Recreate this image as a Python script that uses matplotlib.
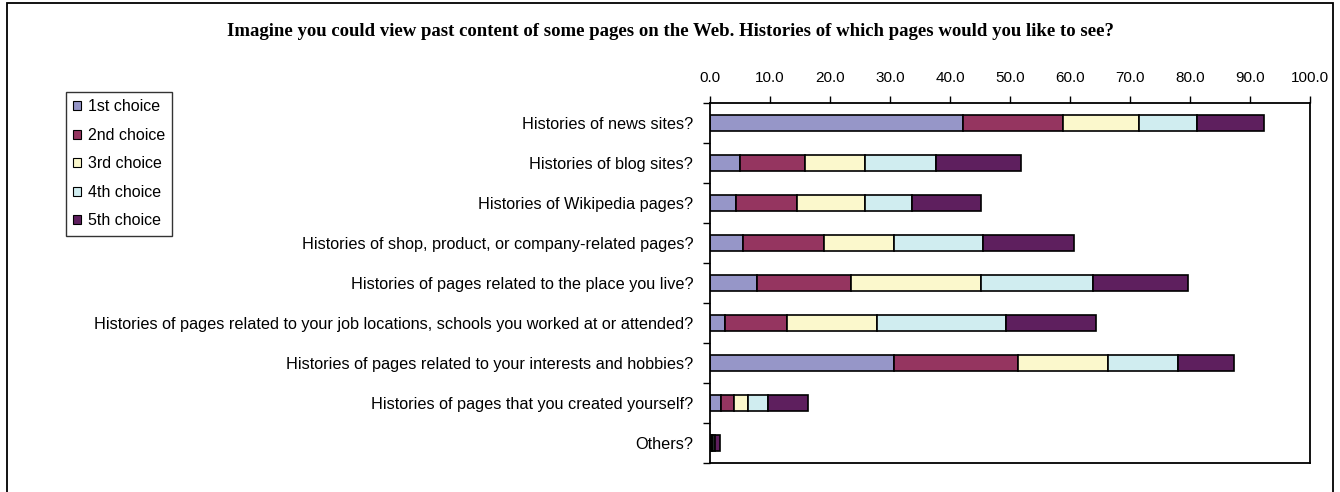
import numpy as np
import matplotlib.pyplot as plt
from matplotlib.patches import Rectangle

# Categories, top to bottom
pages = [
    "Histories of news sites?",
    "Histories of blog sites?",
    "Histories of Wikipedia pages?",
    "Histories of shop, product, or company-related pages?",
    "Histories of pages related to the place you live?",
    "Histories of pages related to your job locations, schools you worked at or attended?",
    "Histories of pages related to your interests and hobbies?",
    "Histories of pages that you created yourself?",
    "Others?",
]

choices = ["1st choice", "2nd choice", "3rd choice", "4th choice", "5th choice"]

# Percentages per choice rank
first = [42.1, 5.0, 4.3, 5.5, 7.8, 2.5, 30.6, 1.9, 0.2]
second = [16.8, 10.8, 10.2, 13.5, 15.7, 10.3, 20.8, 2.1, 0.2]
third = [12.6, 10.0, 11.3, 11.6, 21.6, 15.0, 15.0, 2.3, 0.1]
fourth = [9.7, 11.8, 7.8, 14.9, 18.8, 21.6, 11.6, 3.3, 0.4]
fifth = [11.1, 14.3, 11.5, 15.2, 15.8, 15.0, 9.4, 6.7, 0.8]

colors = ["#9696c8", "#953560", "#fbf8cc", "#d0edf0", "#5e1f5e"]

plt.rcParams["font.family"] = ["Liberation Sans", "DejaVu Sans"]

fig = plt.figure(figsize=(13.4, 4.92), dpi=100)
ax = fig.add_axes([710 / 1340, 1 - 463 / 492, 600 / 1340, 360 / 492])

y = np.arange(len(pages))
left = np.zeros(len(pages))
for vals, name, col in zip([first, second, third, fourth, fifth], choices, colors):
    ax.barh(y, vals, left=left, height=0.42, color=col, edgecolor="black",
            linewidth=1.2, label=name)
    left += np.array(vals)

ax.set_xlim(0, 100)
ax.set_ylim(len(pages) - 0.5, -0.5)
ax.xaxis.tick_top()
ax.set_xticks(np.arange(0, 101, 10))
ax.set_xticklabels([f"{v:.1f}" for v in range(0, 101, 10)], fontsize=11)
ax.tick_params(axis="x", direction="out", length=5, width=1, pad=8)

# labels centred on bars, tick marks between categories
ax.set_yticks(y)
ax.set_yticklabels(pages, fontsize=11.7)
ax.tick_params(axis="y", which="major", length=0, pad=12)
ax.set_yticks(np.arange(-0.5, len(pages)), minor=True)
ax.tick_params(axis="y", which="minor", direction="out", length=5, width=1)

for s in ax.spines.values():
    s.set_linewidth(1.3)

fig.text(670 / 1340, 1 - 31 / 492,
         "Imagine you could view past content of some pages on the Web. Histories of which pages would you like to see?",
         ha="center", va="center", fontsize=13.5, fontweight="bold",
         family=["Liberation Serif", "DejaVu Serif"])

leg = fig.legend(loc="upper left", bbox_to_anchor=(66 / 1340, 1 - 92 / 492),
                 fontsize=11.5, frameon=True, fancybox=False, edgecolor="black",
                 handlelength=0.5, handleheight=0.5, handletextpad=0.4,
                 labelspacing=0.85, borderpad=0.45, borderaxespad=0)
leg.get_frame().set_linewidth(1)
for h in leg.legend_handles:
    h.set_linewidth(0.8)

# chart area border
fig.patches.append(Rectangle((7 / 1340, -0.05), (1333 - 7) / 1340, 1.05 - 3 / 492,
                             transform=fig.transFigure, fill=False,
                             edgecolor="black", linewidth=1.3))

fig.savefig("out.png", dpi=100)
